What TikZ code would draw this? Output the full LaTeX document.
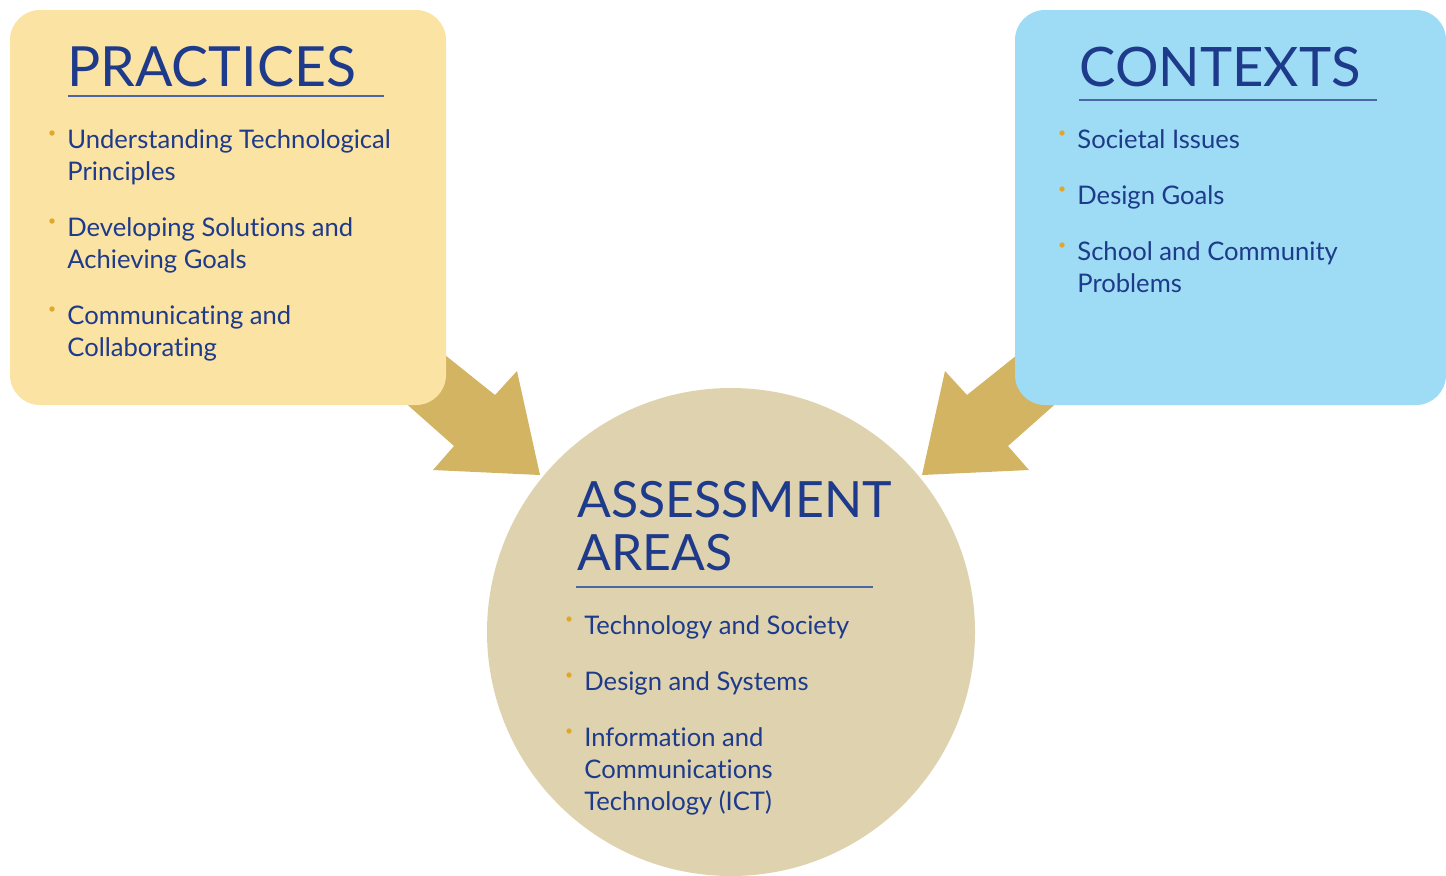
\documentclass[tikz,border=0pt]{standalone}
\usepackage{fontspec}
\setmainfont{Lato}[Ligatures=NoCommon]
\usetikzlibrary{positioning,calc}
\definecolor{pracfill}{HTML}{FBE3A4}
\definecolor{contfill}{HTML}{9EDBF4}
\definecolor{assfill}{HTML}{DFD3AF}
\definecolor{arrowgold}{HTML}{D3B463}
\definecolor{inkblue}{HTML}{1E3A8A}
\definecolor{rulblue}{HTML}{4A66A6}
\definecolor{dotgold}{HTML}{E2A728}
\begin{document}
\begin{tikzpicture}[x=0.5pt,y=-0.5pt,
  title/.style={anchor=base west,inner sep=0pt,text=inkblue,font=\fontsize{27.7}{27}\selectfont},
  item/.style={anchor=base west,inner sep=0pt,text=inkblue,align=left,font=\fontsize{12.8}{16}\selectfont},
  bullet/.style={circle,fill=dotgold,inner sep=0pt,minimum size=2.7pt}]
\useasboundingbox (0,0) rectangle (1446,875);
% arrows behind the boxes
\fill [arrowgold] (395,315) -- (495,395) -- (517,371) -- (540,475) -- (433,470) -- (454,446) -- (366,368) -- cycle;
\fill [arrowgold] (1067,315) -- (967,395) -- (945,371) -- (922,475) -- (1029,470) -- (1008,446) -- (1096,368) -- cycle;
% boxes and circle
\fill [pracfill,rounded corners=15pt] (10,10) rectangle (446,405);
\fill [contfill,rounded corners=15pt] (1015,10) rectangle (1446,405);
\fill [assfill] (731,632) circle (122pt);
% practices (base = last line)
\node [title] (prac) at (67,86) {PRACTICES};
\draw [rulblue,line width=0.7pt] (68,96) -- (384,96);
\node [item] (p1) at (67,180) {Understanding Technological\\Principles};
\node [item] (p2) at (67,268) {Developing Solutions and\\Achieving Goals};
\node [item] (p3) at (67,356) {Communicating and\\Collaborating};
\foreach \y in {133,221,309} \node [bullet] at (52,\y) {};
% contexts
\node [title,font=\fontsize{27.2}{27}\selectfont] (cont) at (1079,86) {CONTEXTS};
\draw [rulblue,line width=0.7pt] (1079,100) -- (1377,100);
\node [item] (c1) at (1077,148) {Societal Issues};
\node [item] (c2) at (1077,204) {Design Goals};
\node [item] (c3) at (1077,292) {School and Community\\Problems};
\foreach \y in {133,189,245} \node [bullet] at (1062,\y) {};
% assessment areas
\node [title,font=\fontsize{25}{27}\selectfont] (ass) at (577,517) {ASSESSMENT};
\node [title,font=\fontsize{25}{27}\selectfont] (areas) at (577,570) {AREAS};
\draw [rulblue,line width=0.7pt] (576,587) -- (873,587);
\node [item] (a1) at (584,634) {Technology and Society};
\node [item] (a2) at (584,690) {Design and Systems};
\node [item] (a3) at (584,810) {Information and\\Communications\\Technology (ICT)};
\foreach \y in {619,675,731} \node [bullet] at (569,\y) {};
\end{tikzpicture}
\end{document}
